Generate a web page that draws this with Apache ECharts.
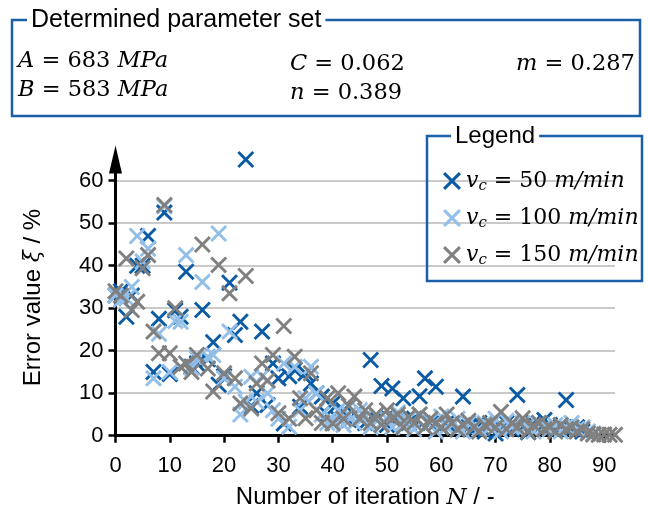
<!DOCTYPE html>
<html>
<head>
<meta charset="utf-8">
<script src="https://cdn.jsdelivr.net/npm/echarts@6/dist/echarts.min.js"></script>
<style>html,body{margin:0;padding:0;background:#fff;}#c{width:648px;height:516px;}</style>
</head>
<body>
<div id="c"></div>
<script>
// ---- data ----
const xTicks = [0, 10, 20, 30, 40, 50, 60, 70, 80, 90];
const yTicks = [0, 10, 20, 30, 40, 50, 60];
const seriesLabels = ['50', '100', '150'];
// error values per iteration N = 0,1,2,...
const v50 = [33, 34, 28, 33, 40, 40, 47, 15, 27.5, 52.5,
  14.5, 29.5, 28, 38.6, 16.2, 17, 29.6, 18, 22, 12,
  14, 36, 23.7, 26.8, 65, 7, 10, 24.5, 7.2, 17,
  13.5, 2.9, 14, 15.5, 6.8, 14.7, 12.3, 10, 9.2, 5,
  7.6, 4, 6, 3.7, 5, 4, 3, 17.8, 4, 11.7,
  2.5, 11.1, 4, 8.8, 3, 4, 9.3, 13.5, 3, 11.5,
  2, 3, 2.5, 1.5, 9.2, 2, 1.5, 3, 1, 2.5,
  0.5, 2, 3, 1.5, 9.6, 2, 0.8, 3, 2, 3.7,
  2.5, 1.5, 2, 8.4, 1.5, 2, 1];
const v100 = [33, 32, 32.3, 35, 47, 41, 44, 13.5, 24, 54,
  15, 27, 26.8, 42.5, 16, 18.2, 36.2, 18.6, 19, 47.6,
  13.5, 24.5, 11.5, 5, 8, 13.9, 8, 14, 10, 6,
  4, 17, 2.1, 16.2, 6, 8.8, 16.2, 10, 5, 3,
  3.7, 6, 2.5, 5, 3, 6, 4.5, 2, 5, 3,
  4, 2, 5.5, 3, 4, 1.5, 5, 2, 3.5, 1,
  4.5, 2, 2.5, 4, 1, 3, 2, 1.5, 3, 2,
  4, 1, 3.5, 2, 1.5, 3, 2.5, 1, 3, 2,
  1.5, 2.5, 1, 2, 3, 1.5, 2, 1, 0.5];
const v150 = [34, 33, 41.7, 29.6, 31.5, 39.4, 42.5, 24.5, 19.4, 54.3,
  19.4, 30, 16.2, 17, 15, 19, 45, 15.8, 10.4, 40.2,
  14.7, 33.5, 13.5, 7.6, 37.6, 6.4, 12.3, 17, 13, 19,
  5.3, 25.8, 4, 18.6, 8.8, 4.1, 14.7, 6, 3, 8.8,
  2.9, 10, 4, 7, 9.2, 4, 6, 3, 5, 2.5,
  6, 4, 5, 2, 4.5, 3, 5, 2, 4, 3,
  2, 5, 3, 1.5, 2.5, 3.5, 2, 1, 2.5, 3,
  2, 5.6, 1.5, 3, 2, 4.1, 1, 2.5, 3, 1.5,
  2, 1, 2.5, 1.5, 2, 1, 1.5, 0.5, 0.3, 0.2,
  0.3, 0.2, 0.2];

// ---- styling ----
const colors = ['#0b5ba4', '#93bfe8', '#808080'];
const boxBlue = '#1a5fa8';
const crossPath = 'path://M0,2.4 L2.4,0 L10,7.6 L17.6,0 L20,2.4 L12.4,10 L20,17.6 L17.6,20 L10,12.4 L2.4,20 L0,17.6 L7.6,10 Z';
const sansFont = '"Liberation Sans", Arial, sans-serif';
const mathFont = '"DejaVu Serif", serif';

const allValues = [v50, v100, v150];
const toPairs = arr => arr.map((v, i) => [i, v]);

const chart = echarts.init(document.getElementById('c'), null, {renderer: 'canvas'});

const mathRich = {
  i: {fontFamily: mathFont, fontStyle: 'italic', fontSize: 22.5, color: '#000'},
  t: {fontFamily: mathFont, fontSize: 22.5, color: '#000'},
  s: {fontFamily: mathFont, fontStyle: 'italic', fontSize: 15, color: '#000', padding: [11, 0, 0, 0]}
};
const legendRich = {
  i: {fontFamily: mathFont, fontStyle: 'italic', fontSize: 22, color: '#000'},
  t: {fontFamily: mathFont, fontSize: 22, color: '#000'},
  s: {fontFamily: mathFont, fontStyle: 'italic', fontSize: 15, color: '#000', padding: [11, 0, 0, 0]}
};

chart.setOption({
  animation: false,
  backgroundColor: '#fff',
  grid: {left: 115.5, right: 33, top: 159.5, bottom: 80.3, containLabel: false},
  xAxis: {
    type: 'value', min: 0, max: 92, interval: 10,
    name: 'Number of iteration {m|N} / -',
    nameLocation: 'middle', nameGap: 50,
    nameTextStyle: {fontFamily: sansFont, fontSize: 24, color: '#000',
      rich: {m: {fontFamily: mathFont, fontStyle: 'italic', fontSize: 23, color: '#000'}}},
    axisLine: {show: true, onZero: false, lineStyle: {color: '#000', width: 3}},
    axisTick: {show: true, length: 7, lineStyle: {color: '#000', width: 2.5}, customValues: xTicks},
    axisLabel: {fontFamily: sansFont, fontSize: 22, color: '#000', margin: 19, customValues: xTicks},
    splitLine: {show: false}
  },
  yAxis: {
    type: 'value', min: 0, max: 65, interval: 10,
    name: 'Error value {m|ξ} / %',
    nameLocation: 'middle', nameGap: 70, nameRotate: 90,
    nameTextStyle: {fontFamily: sansFont, fontSize: 24, color: '#000',
      rich: {m: {fontFamily: mathFont, fontStyle: 'italic', fontSize: 22, color: '#000'}}},
    axisLine: {show: true, onZero: false, symbol: ['none', 'triangle'], symbolSize: [13, 28],
      lineStyle: {color: '#000', width: 3}},
    axisTick: {show: true, length: 7, lineStyle: {color: '#000', width: 2.5}, customValues: yTicks},
    axisLabel: {fontFamily: sansFont, fontSize: 22, color: '#000', margin: 12, customValues: yTicks},
    splitLine: {show: true, showMinLine: false, lineStyle: {color: '#b8b8b8', width: 1.6}}
  },
  legend: {
    orient: 'vertical', left: 438, top: 164, z: 20,
    itemWidth: 18, itemHeight: 18, itemGap: 12,
    icon: crossPath,
    data: seriesLabels.map((s, i) => ({name: s, itemStyle: {color: colors[i]}})),
    formatter: name => '{i|v}{s|c}{t| = ' + name + ' }{i|m/min}',
    textStyle: {rich: legendRich, lineHeight: 24}
  },
  series: allValues.map((vals, i) => ({
    name: seriesLabels[i],
    type: 'scatter',
    symbol: crossPath,
    symbolSize: 17,
    itemStyle: {color: colors[i], opacity: 1},
    data: toPairs(vals),
    z: 2 + i,
    clip: false
  })),
  graphic: [
    {type: 'rect', shape: {x: 12, y: 20, width: 628, height: 96},
     style: {fill: 'none', stroke: boxBlue, lineWidth: 2.5}, z: 10},
    {type: 'text', x: 27, y: 20, z: 11,
     style: {text: 'Determined parameter set', font: '25px ' + sansFont, fill: '#000',
       verticalAlign: 'middle', backgroundColor: '#fff', padding: [0, 4, 0, 4]}},
    {type: 'text', x: 18, y: 61, z: 11,
     style: {text: '{i|A}{t| = 683 }{i|MPa}', rich: mathRich, verticalAlign: 'middle'}},
    {type: 'text', x: 18, y: 90, z: 11,
     style: {text: '{i|B}{t| = 583 }{i|MPa}', rich: mathRich, verticalAlign: 'middle'}},
    {type: 'text', x: 290, y: 64, z: 11,
     style: {text: '{i|C}{t| = 0.062}', rich: mathRich, verticalAlign: 'middle'}},
    {type: 'text', x: 290, y: 93, z: 11,
     style: {text: '{i|n}{t| = 0.389}', rich: mathRich, verticalAlign: 'middle'}},
    {type: 'text', x: 516, y: 64, z: 11,
     style: {text: '{i|m}{t| = 0.287}', rich: mathRich, verticalAlign: 'middle'}},
    {type: 'rect', shape: {x: 427, y: 136, width: 215, height: 145},
     style: {fill: 'none', stroke: boxBlue, lineWidth: 2.5}, z: 10},
    {type: 'text', x: 451, y: 136, z: 11,
     style: {text: 'Legend', font: '24px ' + sansFont, fill: '#000',
       verticalAlign: 'middle', backgroundColor: '#fff', padding: [0, 4, 0, 4]}}
  ]
});
</script>
</body>
</html>
